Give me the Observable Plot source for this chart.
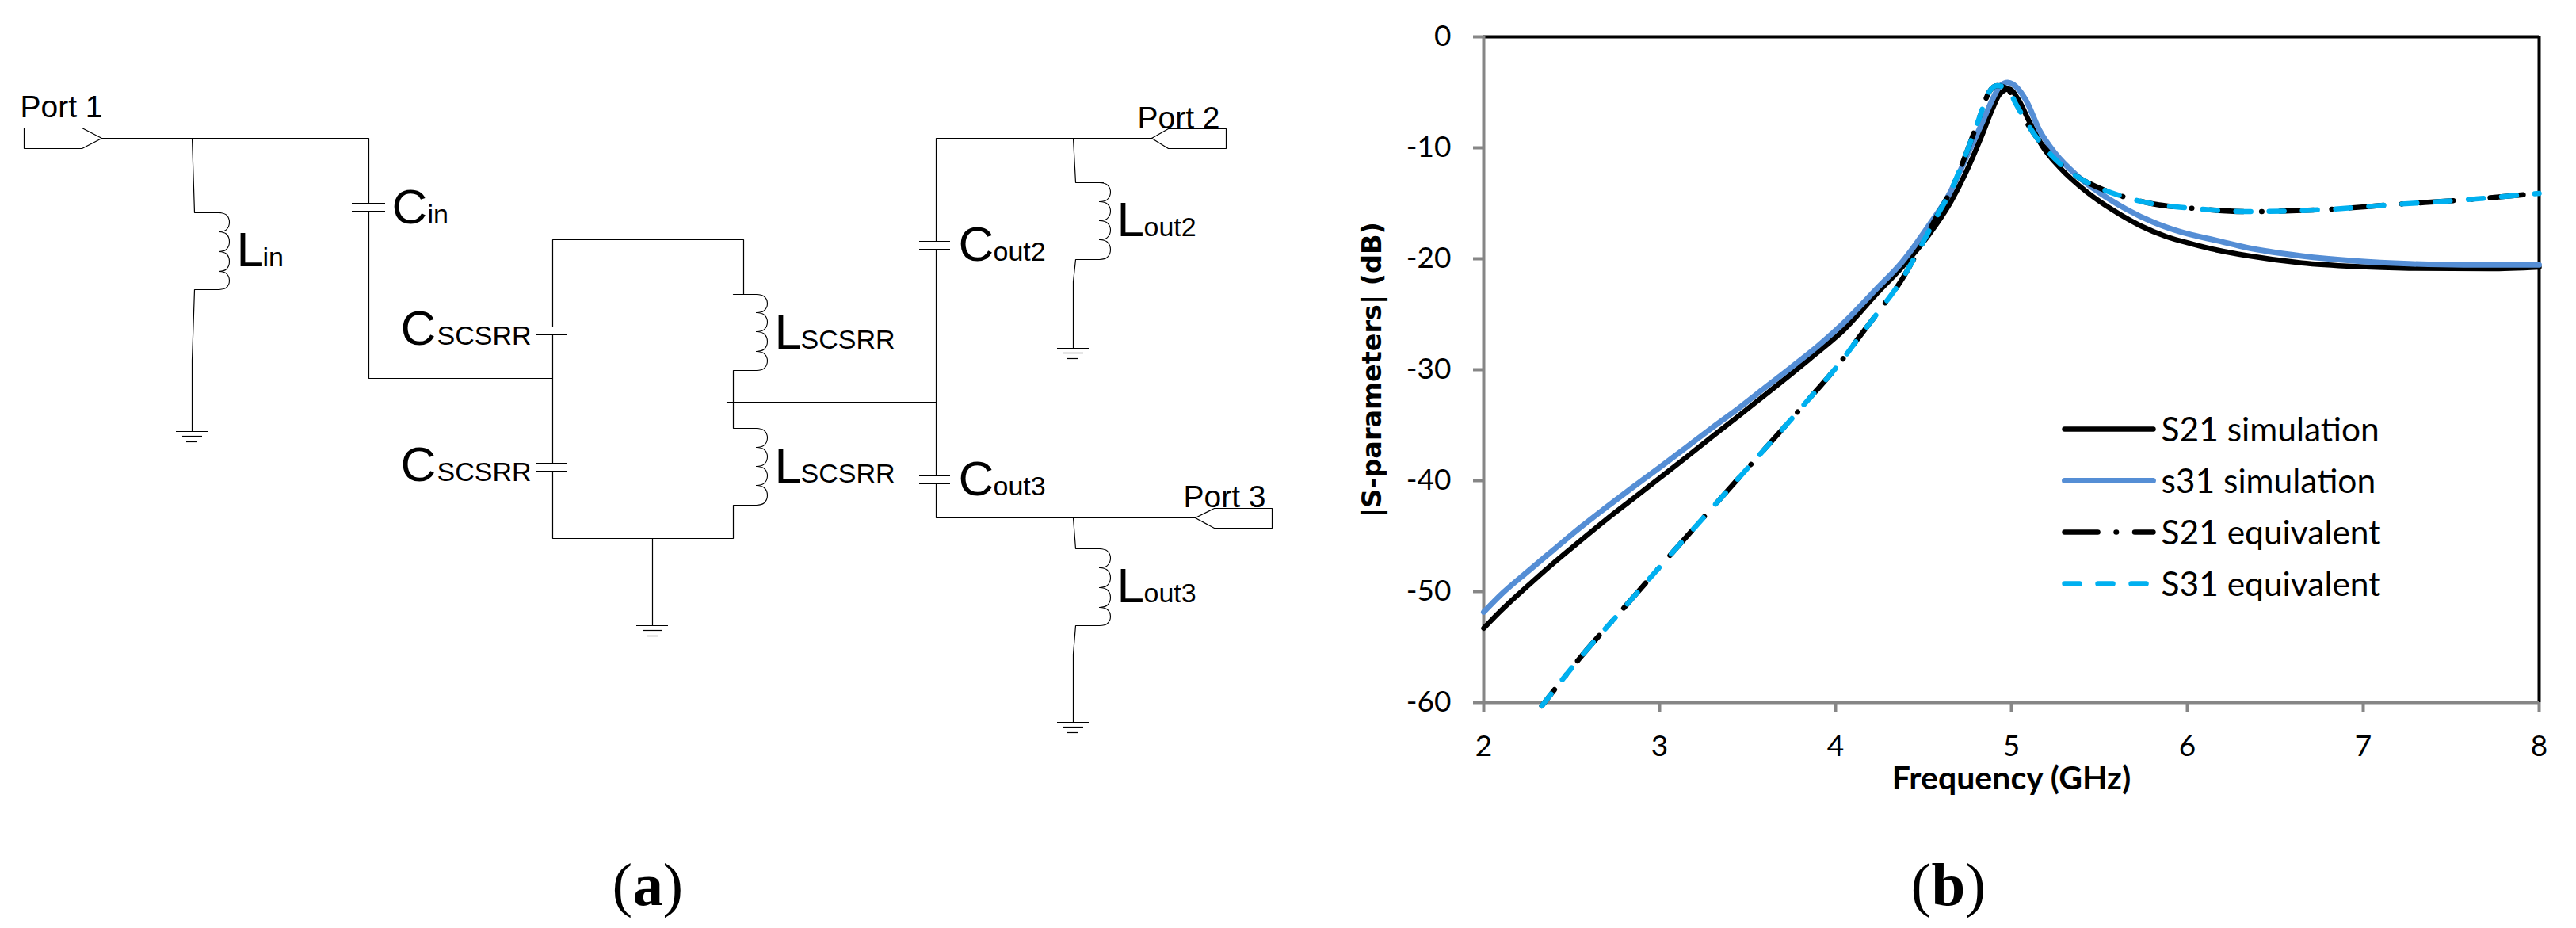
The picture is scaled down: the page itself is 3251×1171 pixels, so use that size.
<!DOCTYPE html>
<html><head><meta charset="utf-8">
<script src="https://cdn.jsdelivr.net/npm/d3@7"></script>
<script src="https://cdn.jsdelivr.net/npm/@observablehq/plot@0.6"></script>
<style>
html,body{margin:0;padding:0;background:#fff;overflow:hidden}
#page{position:relative;width:3251px;height:1171px}
#page svg{position:absolute;top:0}
</style></head><body><div id="page"></div>
<script>
// ---- chart (b) data ----
const xTicks = [2,3,4,5,6,7,8];
const yTicks = [0,-10,-20,-30,-40,-50,-60];
const s21SimF = [2,2.096,2.246,2.381,2.547,2.697,2.847,2.997,3.147,3.297,3.447,3.597,3.747,3.897,4.048,4.228,4.378,4.528,4.649,4.739,4.829,4.889,4.934,4.986,5.039,5.099,5.174,5.279,5.43,5.58,5.73,5.88,6.036,6.18,6.34,6.65,6.955,7.26,7.72,8];
const s21SimDb = [-53.3,-51.75,-49.55,-47.65,-45.45,-43.5,-41.65,-39.8,-37.95,-36.05,-34.2,-32.3,-30.4,-28.45,-26.4,-23.25,-20.75,-17.9,-15.05,-12.3,-9,-6.6,-5.15,-4.7,-5.65,-7.55,-9.8,-11.85,-14,-15.65,-17,-18,-18.7,-19.25,-19.72,-20.38,-20.7,-20.85,-20.9,-20.75];
const s31SimF = [2,2.096,2.246,2.396,2.547,2.697,2.847,2.997,3.147,3.297,3.447,3.597,3.747,3.897,4.048,4.228,4.378,4.528,4.649,4.739,4.829,4.889,4.934,4.979,5.024,5.084,5.159,5.249,5.369,5.505,5.655,5.805,5.955,6.18,6.34,6.65,6.955,7.26,7.57,8];
const s31SimDb = [-51.85,-50.3,-48.25,-46.25,-44.25,-42.4,-40.6,-38.85,-37.05,-35.25,-33.5,-31.65,-29.8,-27.9,-25.75,-22.8,-20.3,-17.05,-14.1,-11,-7.9,-5.75,-4.45,-4.1,-4.45,-5.75,-8.4,-10.5,-12.45,-14.1,-15.55,-16.7,-17.55,-18.4,-19,-19.75,-20.2,-20.45,-20.55,-20.55];
const eqF = [2.33,2.546,2.809,3.072,3.327,3.541,3.807,4.063,4.123,4.243,4.378,4.468,4.573,4.663,4.754,4.814,4.874,4.919,4.979,5.024,5.084,5.144,5.264,5.369,5.519,5.625,5.805,6.03,6.34,6.8,7.185,7.57,8];
const s21EqDb = [-60.3,-56,-51.25,-46.5,-41.95,-38.15,-33.4,-28.6,-27.3,-24.8,-21.85,-19.35,-16.25,-13.6,-10.05,-7.45,-4.95,-4.4,-4.7,-6,-7.65,-9.1,-11.25,-12.55,-13.75,-14.35,-15.05,-15.45,-15.75,-15.55,-15.1,-14.7,-14.1];
const s31EqDb = [-60.3,-56,-51.25,-46.5,-41.95,-38.15,-33.4,-28.6,-27.3,-24.8,-21.85,-19.35,-16.25,-13.6,-10.05,-7.45,-4.95,-4.4,-4.7,-6,-7.65,-9.1,-11.25,-12.55,-13.75,-14.35,-15.05,-15.45,-15.75,-15.55,-15.1,-14.7,-14.1];
const legendNames = ["S21 simulation","s31 simulation","S21 equivalent","S31 equivalent"];
const legendDb = [-35.36,-40,-44.64,-49.29];
const legendSpan = [5.302,5.806];
const legendTextF = 5.851;

// ---- schematic (a) geometry, in page pixels of the drawing ----
const wires = [
 [[30,161],[103,161],[128,174],[103,187],[30,187],[30,161]],
 [[128,174],[465,174],[465,256]],
 [[465,266],[465,477],[697,477]],
 [[242,174],[245,268],[278,268]],
 [[276,365],[245,365],[242,454],[242,544]],
 [[697,412],[697,302],[938,302],[938,371]],
 [[925,371],[954,371]],
 [[954,467],[925,467],[925,540],[954,540]],
 [[954,637],[925,637],[925,679],[697,679],[697,594]],
 [[697,584],[697,422]],
 [[917,507],[1181,507]],
 [[823,679],[823,789]],
 [[1181,304],[1181,174],[1453,174]],
 [[1181,314],[1181,600]],
 [[1181,610],[1181,653],[1508,653]],
 [[1453,174],[1474,162],[1547,162],[1547,187],[1474,187],[1453,174]],
 [[1508,653],[1532,641],[1605,641],[1605,666],[1532,666],[1508,653]],
 [[1354,174],[1357,230],[1392,230]],
 [[1387,327],[1357,327],[1354,355],[1354,439]],
 [[1354,653],[1357,692],[1388,692]],
 [[1387,789],[1357,789],[1354,825],[1354,911]]
];
const plates = [
 [444,486,256],[444,486,266],
 [677,716,412],[677,716,422],[677,716,584],[677,716,594],
 [1160,1199,304],[1160,1199,314],[1160,1199,600],[1160,1199,610]
];
const groundAt = [[242,544],[823,789],[1354,439],[1354,911]];
const coils = [
 {joint:276,right:289,ys:[268,292,317,342,365]},
 {joint:954,right:968,ys:[371,394,418,443,467]},
 {joint:954,right:968,ys:[540,564,588,612,637]},
 {joint:1387,right:1401,ys:[230,254,278,302,327]},
 {joint:1387,right:1401,ys:[692,716,741,766,789]}
];
const portLabels = [["Port 1",25,147],["Port 2",1435,161],["Port 3",1493,639]];
const compLabels = [
 ["L","in",298,331,335],["C","in",494,539,281],
 ["C","SCSRR",505,551,434],["C","SCSRR",505,551,606],
 ["L","SCSRR",977,1010,439],["L","SCSRR",977,1010,608],
 ["C","out2",1209,1253,328],["L","out2",1409,1443,297],
 ["C","out3",1209,1253,624],["L","out3",1409,1443,759]
];
const captionParens = [["(",772],[")",836],["(",2411],[")",2480]];
const captionLetters = [["a",798],["b",2437]];

const wireRows = wires.flatMap((w,i)=>w.map(p=>({id:i,x:p[0],y:p[1]})));
const plateRows = plates.map(p=>({x1:p[0],x2:p[1],y:p[2]}));
const groundRows = groundAt.flatMap(([x,y])=>[
 {x1:x-20,x2:x+20,y},{x1:x-12,x2:x+13,y:y+6},{x1:x-7,x2:x+7,y:y+13}]);
const lobeRows = coils.flatMap((c,ci)=>d3.pairs(c.ys).flatMap(([a,b],li)=>{
  const h=b-a, r=c.right-c.joint;
  return [[0,0],[.68,.1],[1,.5],[.68,.9],[0,1]].map(([u,v])=>({id:ci+"-"+li,x:c.joint+u*r,y:a+v*h}));
}));
const SANS="Liberation Sans";
const capOpts={x:d=>d[1],y:()=>1141,text:d=>d[0],textAnchor:"start",lineAnchor:"bottom",fontSize:77,fontFamily:"Liberation Serif",fill:"#000"};
const schematic = Plot.plot({
  width:3251,height:1171,margin:0,
  x:{domain:[0,3251],range:[0,3251],axis:null},
  y:{domain:[0,1171],range:[0,1171],axis:null},
  style:{background:"transparent",maxWidth:"none"},
  marks:[
    Plot.line(wireRows,{x:"x",y:"y",z:"id",stroke:"#000",strokeWidth:1.2,strokeLinejoin:"miter"}),
    Plot.line(lobeRows,{x:"x",y:"y",z:"id",stroke:"#000",strokeWidth:1.1,curve:"catmull-rom"}),
    Plot.ruleY(plateRows,{x1:"x1",x2:"x2",y:"y",stroke:"#000",strokeWidth:1.2}),
    Plot.ruleY(groundRows,{x1:"x1",x2:"x2",y:"y",stroke:"#000",strokeWidth:1.2}),
    Plot.text(portLabels,{x:d=>d[1],y:d=>d[2],text:d=>d[0],textAnchor:"start",lineAnchor:"bottom",fontSize:39,fontFamily:SANS,fill:"#000"}),
    Plot.text(compLabels,{x:d=>d[2],y:d=>d[4],text:d=>d[0],textAnchor:"start",lineAnchor:"bottom",fontSize:62,fontFamily:SANS,fill:"#000"}),
    Plot.text(compLabels,{x:d=>d[3],y:d=>d[4],text:d=>d[1],textAnchor:"start",lineAnchor:"bottom",fontSize:34,fontFamily:SANS,fill:"#000"}),
    Plot.text(captionParens,capOpts),
    Plot.text(captionLetters,{...capOpts,fontWeight:700})
  ]
});
schematic.style.left="0";

const rows=(f,v)=>f.map((x,i)=>({x,y:v[i]}));
const legendRow=(i)=>legendSpan.map(x=>({x,y:legendDb[i]}));
const GRAY="#868686", BLUE="#558ED5", CYAN="#00B0F0";
const DASHDOT="42,23,0.5,23", DASH="19,23";
const styleOf=[
 {stroke:"#000",strokeWidth:6.5},
 {stroke:BLUE,strokeWidth:7},
 {stroke:"#000",strokeWidth:6.5,strokeDasharray:DASHDOT,strokeLinecap:"round"},
 {stroke:CYAN,strokeWidth:6.5,strokeDasharray:DASH,strokeLinecap:"round"}
];
const chart = Plot.plot({
  width:1551,height:1171,marginLeft:172,marginRight:47,marginTop:46,marginBottom:285,
  x:{domain:[2,8]},y:{domain:[-60,0]},
  style:{background:"transparent",maxWidth:"none",fontFamily:"Lato",overflow:"visible"},
  marks:[
    Plot.ruleY([0],{stroke:"#000",strokeWidth:4}),
    Plot.ruleX([8],{stroke:"#000",strokeWidth:4}),
    Plot.axisX({ticks:xTicks,tickFormat:String,tickSize:13,tickPadding:28,fontSize:37,stroke:GRAY,strokeWidth:4,label:null,fontFamily:"Lato"}),
    Plot.axisY({ticks:yTicks,tickFormat:String,tickSize:13,tickPadding:28,fontSize:37,stroke:GRAY,strokeWidth:4,label:null,fontFamily:"Lato"}),
    Plot.ruleX([2],{stroke:GRAY,strokeWidth:4}),
    Plot.ruleY([-60],{stroke:GRAY,strokeWidth:4}),
    Plot.line(rows(s21SimF,s21SimDb),{x:"x",y:"y",curve:"monotone-x",...styleOf[0],strokeLinecap:"round"}),
    Plot.line(rows(s31SimF,s31SimDb),{x:"x",y:"y",curve:"monotone-x",...styleOf[1],strokeLinecap:"round"}),
    Plot.line(rows(eqF,s21EqDb),{x:"x",y:"y",curve:"monotone-x",...styleOf[2],strokeDashoffset:16}),
    Plot.line(rows(eqF,s31EqDb),{x:"x",y:"y",curve:"monotone-x",...styleOf[3]}),
    ...legendNames.map((n,i)=>Plot.line(legendRow(i),{x:"x",y:"y",...styleOf[i],strokeLinecap:"round"})),
    Plot.text(legendNames,{x:()=>legendTextF,y:(d,i)=>legendDb[i],dy:2,text:d=>d,textAnchor:"start",lineAnchor:"middle",fontSize:42.5,fontFamily:"Lato",fill:"#000"}),
    Plot.text(["Frequency (GHz)"],{x:()=>5,y:()=>-60,dy:96,text:d=>d,fontSize:41,fontWeight:700,fontFamily:"Lato",fill:"#000"}),
    Plot.text(["|S-parameters| (dB)"],{x:()=>2,y:()=>-30,dx:-140,rotate:-90,text:d=>d,fontSize:33.5,fontWeight:700,fontFamily:"DejaVu Sans",fill:"#000"})
  ]
});
chart.style.left="1700px";
const page=document.getElementById("page");
page.append(schematic,chart);
</script></body></html>
